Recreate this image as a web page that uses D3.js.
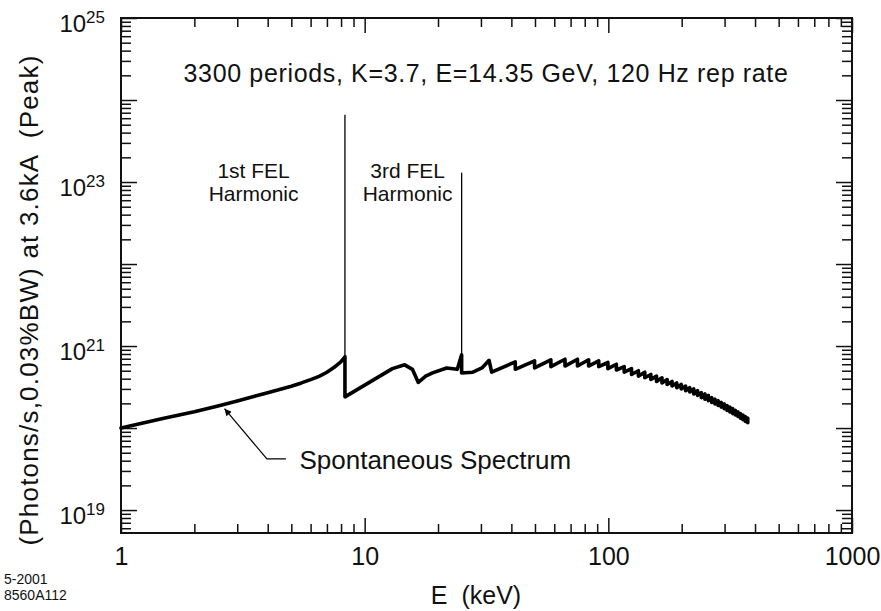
<!DOCTYPE html>
<html>
<head>
<meta charset="utf-8">
<script src="https://cdn.jsdelivr.net/npm/d3@7"></script>
<style>
  body { margin: 0; background: #fff; }
  svg text { font-family: "Liberation Sans", Arial, Helvetica, sans-serif; fill: #111; }
</style>
</head>
<body>
<svg id="chart" width="881" height="611"></svg>
<script>
// spectrum below the 5th harmonic (keV, photons/s)
const lowE  = [1.0, 1.5, 2.0, 2.5, 3.0, 4.0, 5.0, 5.5, 6.0, 6.5, 7.0, 7.5, 8.0, 8.3,
               8.3, 13.0, 14.6, 15.7, 16.6, 17.8, 19.0, 21.7, 24.0, 25.0, 25.0, 27.8, 30.3, 32.4, 33.2];
const lowPh = [1.0e20, 1.32e20, 1.58e20, 1.86e20, 2.14e20, 2.69e20, 3.24e20, 3.55e20, 3.89e20, 4.27e20, 4.79e20, 5.5e20, 6.46e20, 7.4e20,
               2.4e20, 5.3e20, 5.9e20, 5.2e20, 3.6e20, 4.3e20, 4.7e20, 5.4e20, 5.2e20, 7.8e20, 4.7e20, 4.8e20, 5.4e20, 6.7e20, 4.8e20];

// higher harmonics: edge energy, value just before the edge, value just after
const harmE    = [41.5, 49.8, 58.1, 66.4, 74.7, 83.0, 91.3, 99.6, 107.9, 116.2, 124.5, 132.8, 141.1, 149.4, 157.7, 166.0, 174.3, 182.6, 190.9, 199.2,
                  207.5, 215.8, 224.1, 232.4, 240.7, 249.0, 257.3, 265.6, 273.9, 282.2, 290.5, 298.8, 307.1, 315.4, 323.7, 332.0, 340.3, 348.6, 356.9, 365.2, 373.5];
const harmTop  = [6.4e20, 6.6e20, 6.8e20, 6.9e20, 6.9e20, 6.8e20, 6.6e20, 6.3e20, 6.0e20, 5.6e20, 5.3e20, 5.0e20, 4.8e20, 4.5e20, 4.3e20, 4.1e20, 3.9e20, 3.7e20, 3.55e20, 3.4e20,
                  3.25e20, 3.1e20, 3.0e20, 2.85e20, 2.7e20, 2.6e20, 2.5e20, 2.35e20, 2.25e20, 2.15e20, 2.05e20, 1.97e20, 1.88e20, 1.80e20, 1.72e20, 1.64e20, 1.57e20, 1.50e20, 1.44e20, 1.38e20, 1.32e20];
const harmBase = [5.2e20, 5.4e20, 5.6e20, 5.7e20, 5.7e20, 5.7e20, 5.6e20, 5.3e20, 5.1e20, 4.8e20, 4.5e20, 4.3e20, 4.1e20, 3.9e20, 3.7e20, 3.55e20, 3.4e20, 3.25e20, 3.1e20, 3.0e20,
                  2.85e20, 2.75e20, 2.6e20, 2.5e20, 2.35e20, 2.25e20, 2.15e20, 2.05e20, 1.97e20, 1.88e20, 1.80e20, 1.72e20, 1.64e20, 1.57e20, 1.50e20, 1.44e20, 1.38e20, 1.32e20, 1.26e20, 1.20e20, 1.16e20];

// FEL harmonic lines
const felE    = [8.3, 25.0];
const felBase = [7.4e20, 7.8e20];
const felPeak = [6.6e23, 1.3e23];

const xLabels = [1, 10, 100, 1000];
const yLabels = [1e19, 1e21, 1e23, 1e25];

const width = 881, height = 611;
const margin = {top: 18, right: 29, bottom: 78, left: 121};
const innerW = width - margin.left - margin.right;
const innerH = height - margin.top - margin.bottom;

const svg = d3.select('#chart');

const x = d3.scaleLog().domain([1, 1000]).range([margin.left, margin.left + innerW]);
const y = d3.scaleLog().domain([5.25e18, 1e25]).range([margin.top + innerH, margin.top]);

const isDecade = v => Math.abs(Math.log10(v) - Math.round(Math.log10(v))) < 1e-9;
const xMinor = x.ticks().filter(v => !isDecade(v));
const xMajor = x.ticks().filter(isDecade);
const yMinor = y.ticks().filter(v => !isDecade(v));
const yMajor = y.ticks().filter(isDecade);

function tickAxis(axis, values, size, tx, ty) {
    const g = svg.append('g')
        .attr('transform', `translate(${tx},${ty})`)
        .call(axis.tickValues(values).tickSize(size).tickFormat(''));
    g.select('.domain').remove();
    g.selectAll('line').attr('stroke', '#111').attr('stroke-width', 1.5);
    return g;
}

// ticks on all four sides, pointing inward
tickAxis(d3.axisBottom(x), xMinor, -9, 0, margin.top + innerH);
tickAxis(d3.axisBottom(x), xMajor, -15, 0, margin.top + innerH);
tickAxis(d3.axisTop(x), xMinor, -9, 0, margin.top);
tickAxis(d3.axisTop(x), xMajor, -15, 0, margin.top);
tickAxis(d3.axisLeft(y), yMinor, -10, margin.left, 0);
tickAxis(d3.axisLeft(y), yMajor, -16, margin.left, 0);
tickAxis(d3.axisRight(y), yMinor, -10, margin.left + innerW, 0);
tickAxis(d3.axisRight(y), yMajor, -16, margin.left + innerW, 0);

// frame
svg.append('rect')
    .attr('x', margin.left).attr('y', margin.top)
    .attr('width', innerW).attr('height', innerH)
    .attr('fill', 'none').attr('stroke', '#111').attr('stroke-width', 2);

// x tick labels
const xl = svg.append('g')
    .attr('transform', `translate(0,${margin.top + innerH})`)
    .call(d3.axisBottom(x).tickValues(xLabels).tickSize(0).tickPadding(14).tickFormat(d3.format('d')));
xl.select('.domain').remove();
xl.selectAll('text').attr('font-size', 25).attr('font-family', null);

// y tick labels with exponent
const yl = svg.append('g')
    .attr('transform', `translate(${margin.left},0)`)
    .call(d3.axisLeft(y).tickValues(yLabels).tickSize(0).tickPadding(16).tickFormat(''));
yl.select('.domain').remove();
yl.selectAll('text')
    .attr('font-size', 24).attr('font-family', null).attr('dy', '0.58em')
    .text('10')
    .append('tspan')
    .attr('dy', -9).attr('font-size', 17)
    .text(d => Math.round(Math.log10(d)));

// axis titles
svg.append('text')
    .attr('x', 476).attr('y', 604)
    .attr('text-anchor', 'middle').attr('font-size', 25)
    .attr('xml:space', 'preserve')
    .text('E  (keV)');

svg.append('text')
    .attr('transform', 'translate(38,300) rotate(-90)')
    .attr('text-anchor', 'middle').attr('font-size', 26)
    .attr('letter-spacing', 1.2)
    .attr('xml:space', 'preserve')
    .text('(Photons/s,0.03%BW) at 3.6kA  (Peak)');

// footer
svg.append('text').attr('x', 4).attr('y', 584).attr('font-size', 14).text('5-2001');
svg.append('text').attr('x', 4).attr('y', 600).attr('font-size', 14).text('8560A112');

// spectrum line
const points = lowE.map((e, i) => [e, lowPh[i]]);
harmE.forEach((e, i) => {
    points.push([e, harmTop[i]]);
    points.push([e, harmBase[i]]);
});

const line = d3.line().x(d => x(d[0])).y(d => y(d[1]));

svg.append('path')
    .datum(points)
    .attr('d', line)
    .attr('fill', 'none')
    .attr('stroke', '#000')
    .attr('stroke-width', 3.6)
    .attr('stroke-linejoin', 'round')
    .attr('stroke-linecap', 'round');

// FEL harmonic spikes
svg.selectAll('.fel')
    .data(felE)
    .enter().append('line')
    .attr('class', 'fel')
    .attr('x1', d => x(d)).attr('x2', d => x(d))
    .attr('y1', (d, i) => y(felBase[i]))
    .attr('y2', (d, i) => y(felPeak[i]))
    .attr('stroke', '#000').attr('stroke-width', 1.3);

// annotations
svg.append('text')
    .attr('x', 486).attr('y', 82)
    .attr('text-anchor', 'middle').attr('font-size', 25)
    .attr('letter-spacing', 0.65)
    .text('3300 periods, K=3.7, E=14.35 GeV, 120 Hz rep rate');

const felLabels = [
    {e: 3.5, lines: ['1st FEL', 'Harmonic']},
    {e: 15.0, lines: ['3rd FEL', 'Harmonic']}
];
felLabels.forEach(l => {
    const t = svg.append('text')
        .attr('text-anchor', 'middle').attr('font-size', 21);
    l.lines.forEach((s, i) => {
        t.append('tspan')
            .attr('x', x(l.e))
            .attr('y', 178 + i * 23)
            .text(s);
    });
});

// arrow pointing to the spontaneous spectrum
svg.append('defs').append('marker')
    .attr('id', 'head')
    .attr('viewBox', '0 0 10 10')
    .attr('refX', 10).attr('refY', 5)
    .attr('markerWidth', 10).attr('markerHeight', 7)
    .attr('markerUnits', 'userSpaceOnUse')
    .attr('orient', 'auto')
    .append('path').attr('d', 'M0,0L10,5L0,10Z').attr('fill', '#000');

const arrowPts = [[4.75, 4.2e19], [3.97, 4.2e19], [2.66, 1.72e20]];
svg.append('path')
    .datum(arrowPts)
    .attr('d', line)
    .attr('fill', 'none')
    .attr('stroke', '#000').attr('stroke-width', 1.2)
    .attr('marker-end', 'url(#head)');

svg.append('text')
    .attr('x', x(5.4)).attr('y', y(4.2e19) + 10)
    .attr('font-size', 26)
    .text('Spontaneous Spectrum');
</script>
</body>
</html>
